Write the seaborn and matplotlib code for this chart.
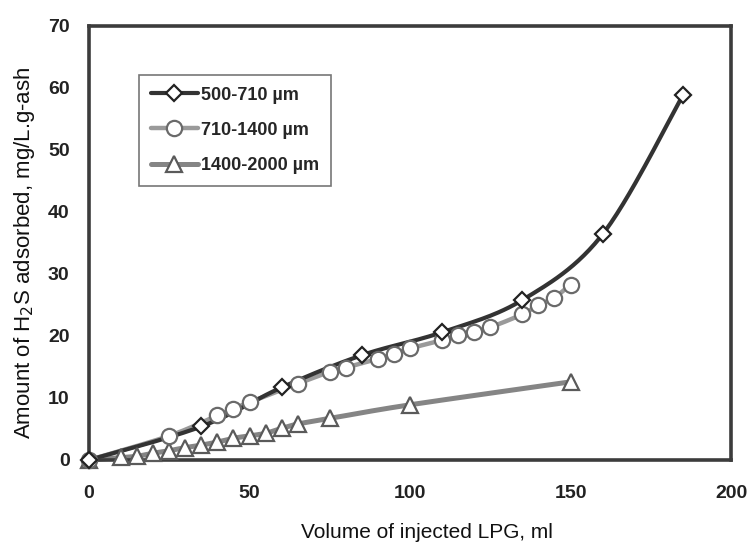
import numpy as np
import pandas as pd
import matplotlib
matplotlib.use("Agg")
import matplotlib.pyplot as plt
from matplotlib.lines import Line2D
import seaborn as sns

sns.set_theme(style="white")
plt.rcParams['font.family'] = ['Liberation Sans', 'DejaVu Sans']

# ---- data ----
x_500 = [0, 35, 60, 85, 110, 135, 160, 185]
y_500 = [0, 5.4, 11.7, 16.9, 20.6, 25.8, 36.4, 58.8]

x_710 = [0, 25, 40, 45, 50, 65, 75, 80, 90, 95, 100, 110, 115, 120, 125, 135, 140, 145, 150]
y_710 = [0, 3.9, 7.2, 8.3, 9.3, 12.3, 14.2, 14.9, 16.3, 17.1, 18.0, 19.3, 20.1, 20.7, 21.4, 23.5, 25.0, 26.2, 28.3]

x_1400 = [0, 10, 15, 20, 25, 30, 35, 40, 45, 50, 55, 60, 65, 75, 100, 150]
y_1400 = [0, 0.4, 0.6, 1.1, 1.5, 2.0, 2.4, 2.9, 3.5, 3.9, 4.3, 5.1, 5.8, 6.7, 8.9, 12.6]

labels = ["500-710 \u00b5m", "710-1400 \u00b5m", "1400-2000 \u00b5m"]
x_ticks = [0, 50, 100, 150, 200]
y_ticks = [0, 10, 20, 30, 40, 50, 60, 70]


def smooth(xs, ys, n=30):
    """Catmull-Rom style smoothing of a polyline (like spreadsheet smoothed lines)."""
    P = np.column_stack([xs, ys]).astype(float)
    P = np.vstack([P[0], P, P[-1]])
    out = []
    t = np.linspace(0, 1, n, endpoint=False)[:, None]
    for i in range(1, len(P) - 2):
        p0, p1, p2, p3 = P[i - 1], P[i], P[i + 1], P[i + 2]
        c1 = p1 + (p2 - p0) / 6
        c2 = p2 - (p3 - p1) / 6
        seg = ((1 - t) ** 3) * p1 + 3 * ((1 - t) ** 2) * t * c1 + 3 * (1 - t) * t ** 2 * c2 + t ** 3 * p2
        out.append(seg)
    out.append(P[-2][None, :])
    out = np.vstack(out)
    return pd.DataFrame({"x": out[:, 0], "y": out[:, 1]})


fig = plt.figure(figsize=(7.5, 5.43), dpi=100)
ax = fig.add_axes([0.1187, 0.1529, 0.856, 0.7993])

spine_c = "#3c3c3c"
styles = [
    dict(xs=x_1400, ys=y_1400, lc="#858585", lw=3.6, mk="^", ms=11, mec="#5a5a5a"),
    dict(xs=x_710, ys=y_710, lc="#9a9a9a", lw=3.2, mk="o", ms=11, mec="#6a6a6a"),
    dict(xs=x_500, ys=y_500, lc="#333333", lw=3.0, mk="D", ms=8, mec="#222222"),
]

for s in styles:
    df = smooth(s["xs"], s["ys"])
    sns.lineplot(data=df, x="x", y="y", sort=False, estimator=None, ax=ax,
                 color=s["lc"], linewidth=s["lw"], clip_on=False)
    ax.plot(s["xs"], s["ys"], linestyle="none", marker=s["mk"], markersize=s["ms"],
            markerfacecolor="white", markeredgecolor=s["mec"], markeredgewidth=1.6,
            clip_on=False, zorder=5)

ax.set_xlim(0, 200)
ax.set_ylim(0, 70)
ax.set_xticks(x_ticks)
ax.set_yticks(y_ticks)
ax.tick_params(axis="both", which="both", direction="in", length=5, width=2.5,
               color=spine_c, labelsize=14, top=False, right=False)
ax.tick_params(axis="y", pad=14)
ax.tick_params(axis="x", pad=18)
for lab in ax.get_xticklabels() + ax.get_yticklabels():
    lab.set_fontweight("bold")
    lab.set_color("#222222")
for sp in ax.spines.values():
    sp.set_visible(True)
    sp.set_color(spine_c)
    sp.set_linewidth(2.6)

ax.set_xlabel("Volume of injected LPG, ml", fontsize=15, color="#111111")
ax.set_ylabel("Amount of H$_2$S adsorbed, mg/L.g-ash", fontsize=16, color="#111111")
ax.xaxis.set_label_coords(0.526, -0.145)
ax.yaxis.set_label_coords(-0.081, 0.477)

handles = [
    Line2D([], [], color="#333333", lw=3.0, marker="D", ms=8, mfc="white", mec="#222222", mew=1.6),
    Line2D([], [], color="#9a9a9a", lw=3.2, marker="o", ms=11, mfc="white", mec="#6a6a6a", mew=1.6),
    Line2D([], [], color="#858585", lw=3.6, marker="^", ms=11, mfc="white", mec="#5a5a5a", mew=1.6),
]
leg = ax.legend(handles, labels, loc="upper left", bbox_to_anchor=(0.078, 0.887),
                frameon=True, fancybox=False, edgecolor="#777777", framealpha=1,
                handlelength=2.6, handletextpad=0.2, labelspacing=1.0,
                borderpad=0.65, borderaxespad=0, prop=dict(weight="bold", size=13))
leg.get_frame().set_linewidth(1.2)

fig.savefig("out.png", dpi=100)
